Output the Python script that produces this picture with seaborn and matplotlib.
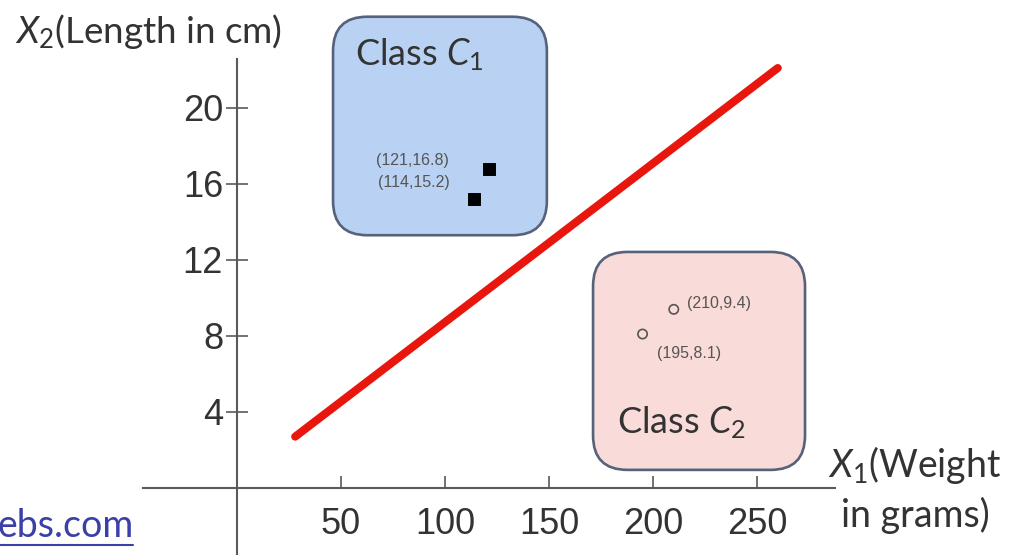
import matplotlib
matplotlib.use("Agg")
import matplotlib.pyplot as plt
import seaborn as sns
import pandas as pd
from matplotlib.patches import FancyBboxPatch
from matplotlib.lines import Line2D

# ---- data ----
c1_x = [121, 114]
c1_y = [16.8, 15.2]
c1_labels = ["(121,16.8)", "(114,15.2)"]
c2_x = [210, 195]
c2_y = [9.4, 8.1]
c2_labels = ["(210,9.4)", "(195,8.1)"]
line_x = [28, 260]
line_y = [2.7, 22.1]
x_ticks = [50, 100, 150, 200, 250]
y_ticks = [4, 8, 12, 16, 20]

sns.set_theme(style="white")
plt.rcParams["font.family"] = ["Liberation Sans", "DejaVu Sans"]
plt.rcParams["mathtext.fontset"] = "custom"
plt.rcParams["mathtext.rm"] = "Lato"
plt.rcParams["mathtext.it"] = "Lato:italic"

fig = plt.figure(figsize=(10.12, 5.55), dpi=100)
ax = fig.add_axes([0, 0, 1, 1])
ax.set_xlim(-113.9, 372.6)
ax.set_ylim(-3.53, 25.68)
ax.patch.set_alpha(0)

# class boxes
aspect = (1 / 19.0) / (1 / 2.08)
box1 = FancyBboxPatch((46.2, 13.3), 102.8, 11.5,
                      boxstyle="round,pad=0,rounding_size=16.5",
                      mutation_aspect=aspect, facecolor="#b9d1f3",
                      edgecolor="#56627a", linewidth=1.9, zorder=1)
box2 = FancyBboxPatch((171.2, 0.95), 101.9, 11.47,
                      boxstyle="round,pad=0,rounding_size=16.5",
                      mutation_aspect=aspect, facecolor="#f9dcd9",
                      edgecolor="#56627a", linewidth=1.9, zorder=1)
ax.add_patch(box1)
ax.add_patch(box2)

df1 = pd.DataFrame({"x": c1_x, "y": c1_y})
df2 = pd.DataFrame({"x": c2_x, "y": c2_y})
dfl = pd.DataFrame({"x": line_x, "y": line_y})

sns.lineplot(data=dfl, x="x", y="y", color="#e8160c", linewidth=5.8, ax=ax, zorder=3)
sns.scatterplot(data=df1, x="x", y="y", marker="s", s=75, color="black",
                edgecolor="black", ax=ax, zorder=4)
sns.scatterplot(data=df2, x="x", y="y", marker="o", s=45, facecolor="none",
                edgecolor="#555555", linewidth=1.2, ax=ax, zorder=4)

lab_kw = dict(textcoords="offset pixels", fontsize=11.5, color="#555555", zorder=5)
ax.annotate(c1_labels[0], (c1_x[0], c1_y[0]), xytext=(-40, 8), ha="right", va="center", **lab_kw)
ax.annotate(c1_labels[1], (c1_x[1], c1_y[1]), xytext=(-24, 17), ha="right", va="center", **lab_kw)
ax.annotate(c2_labels[0], (c2_x[0], c2_y[0]), xytext=(13, 6), ha="left", va="center", **lab_kw)
ax.annotate(c2_labels[1], (c2_x[1], c2_y[1]), xytext=(14, -19), ha="left", va="center", **lab_kw)

# box titles
ax.text(56.7, 22.26, r"Class $C_1$", fontsize=26, color="#333333",
        ha="left", va="baseline", family="Lato", zorder=5)
ax.text(182.7, 2.9, r"Class $C_2$", fontsize=26, color="#333333",
        ha="left", va="baseline", family="Lato", zorder=5)

# axes through origin
for s in ["top", "right"]:
    ax.spines[s].set_visible(False)
ax.spines["left"].set_position(("data", 0))
ax.spines["bottom"].set_position(("data", 0))
ax.spines["left"].set_bounds(-3.6, 22.6)
ax.spines["bottom"].set_bounds(-45, 287.5)
for s in ["left", "bottom"]:
    ax.spines[s].set_color("#5a5a5a")
    ax.spines[s].set_linewidth(1.5)

ax.set_xticks(x_ticks)
ax.set_yticks(y_ticks)
ax.set_xticklabels([str(v) for v in x_ticks])
ax.set_yticklabels([str(v) for v in y_ticks])
ax.tick_params(axis="y", direction="inout", length=16, width=1.2, color="#5a5a5a",
               pad=2, labelsize=26, labelcolor="#333333", left=True)
ax.tick_params(axis="x", direction="in", length=9, width=1.2, color="#5a5a5a",
               pad=14, labelsize=26, labelcolor="#333333", bottom=True)
ax.set_xlabel("")
ax.set_ylabel("")

# axis titles
ax.text(-106.7, 23.4, r"$X_2$(Length in cm)", fontsize=26.5, color="#333333",
        ha="left", va="baseline", family="Lato")
ax.text(326, -2.05, "$X_1$(Weight\nin grams)", fontsize=27, color="#333333",
        ha="center", va="baseline", family="Lato", linespacing=1.37)

# watermark
fig.text(-0.002, 0.032, "ebs.com", fontsize=27, color="#3b3fa8",
         ha="left", va="baseline", family="Lato")
fig.add_artist(Line2D([0, 0.131], [0.018, 0.018], color="#3b3fa8", linewidth=1.5))

fig.savefig("out.png", dpi=100)
